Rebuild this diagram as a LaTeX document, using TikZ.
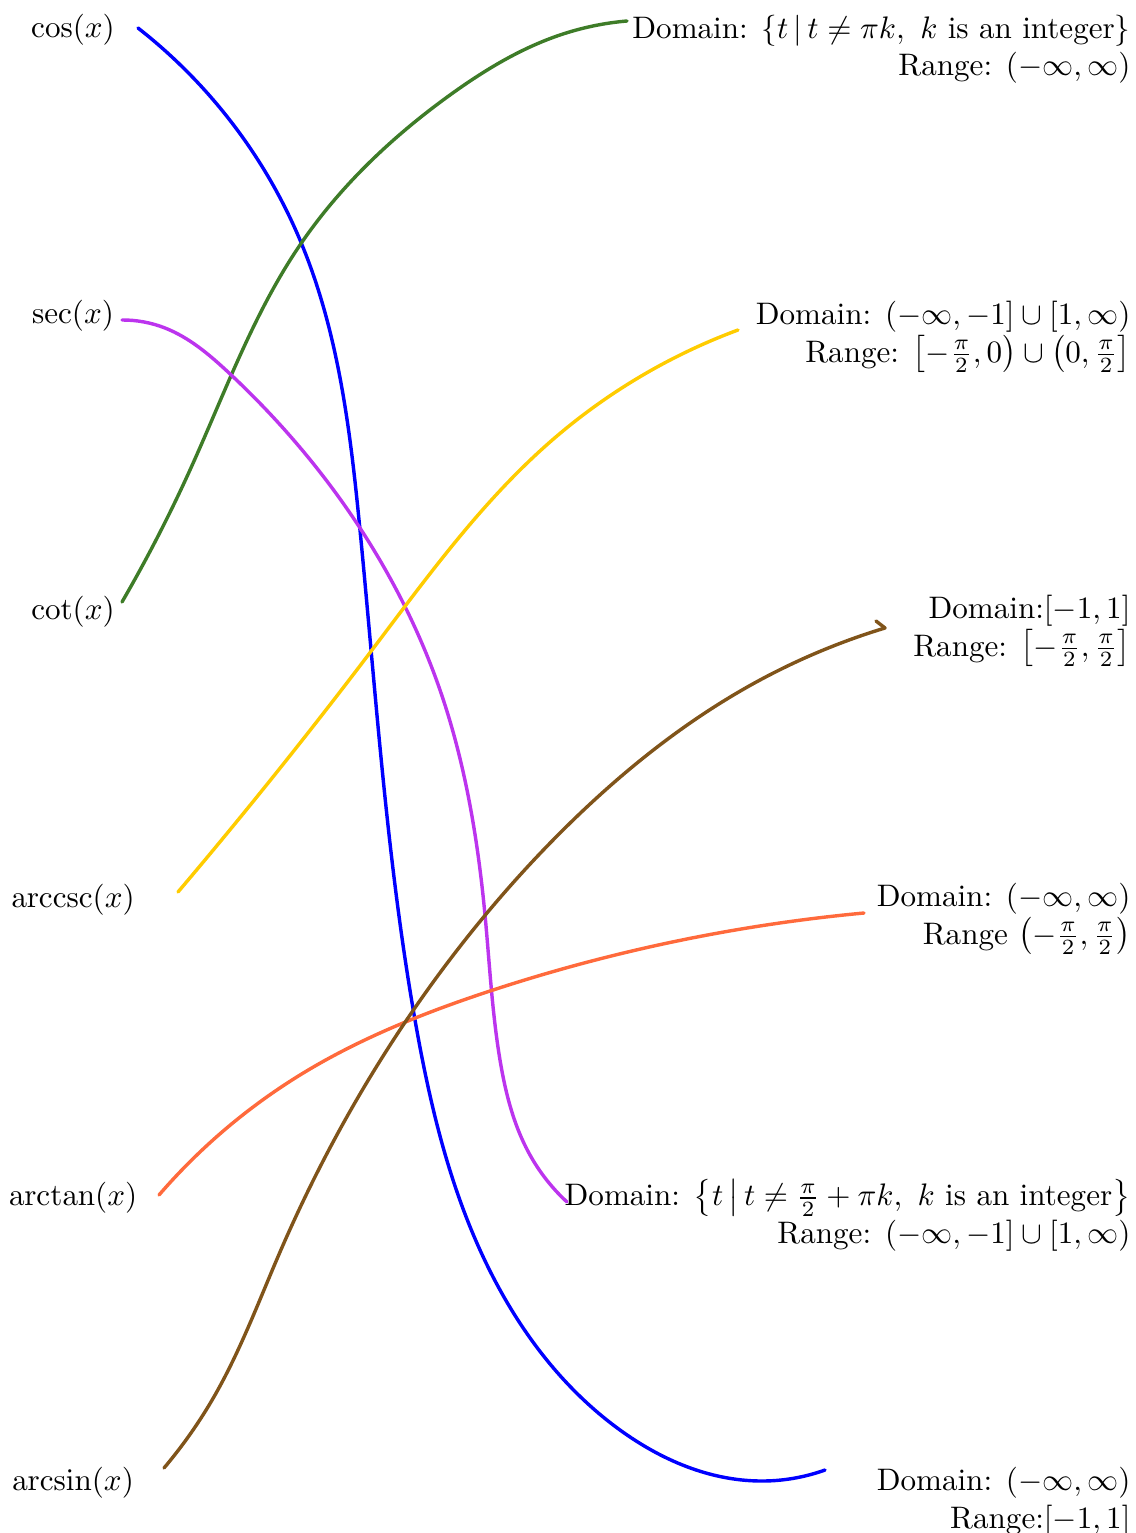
\documentclass[tikz,border=0pt]{standalone}
\usepackage{amsmath}
\usetikzlibrary{hobby}
\begin{document}
\begin{tikzpicture}[x=0.3215pt,y=-0.3215pt,
  lbl/.style={anchor=base,inner sep=0pt},
  rlbl/.style={anchor=base east,inner sep=0pt,align=right},
  curve/.style={line width=1.1pt,line cap=round,line join=round,use Hobby shortcut}]
\definecolor{cgreen}{RGB}{62,124,40}
\definecolor{cpurple}{RGB}{188,52,238}
\definecolor{cyellow}{RGB}{255,204,0}
\definecolor{cbrown}{RGB}{128,84,26}
\definecolor{corange}{RGB}{255,106,60}
\useasboundingbox (0,0) rectangle (1136,1533);
% left labels
\node[lbl] (cos) at (73,38) {$\cos(x)$};
\node[lbl] (sec) at (73,324) {$\sec(x)$};
\node[lbl] (cot) at (73,619) {$\cot(x)$};
\node[lbl] (acsc) at (73,907) {$\operatorname{arccsc}(x)$};
\node[lbl] (atan) at (73,1205) {$\arctan(x)$};
\node[lbl] (asin) at (73,1490) {$\arcsin(x)$};
% right labels (base = last line)
\node[rlbl] (d1) at (1131,76) {Domain: $\{t\,|\,t\neq\pi k,\ k\text{ is an integer}\}$\\Range: $(-\infty,\infty)$};
\node[rlbl] (d2) at (1131,362) {Domain: $(-\infty,-1]\cup[1,\infty)$\\Range: $\left[-\frac{\pi}{2},0\right)\cup\left(0,\frac{\pi}{2}\right]$};
\node[rlbl] (d3) at (1131,656) {Domain:$[-1,1]$\\Range: $\left[-\frac{\pi}{2},\frac{\pi}{2}\right]$};
\node[rlbl] (d4) at (1131,944) {Domain: $(-\infty,\infty)$\\Range $\left(-\frac{\pi}{2},\frac{\pi}{2}\right)$};
\node[rlbl] (d5) at (1131,1243) {Domain: $\left\{t\,\middle|\,t\neq\frac{\pi}{2}+\pi k,\ k\text{ is an integer}\right\}$\\Range: $(-\infty,-1]\cup[1,\infty)$};
\node[rlbl] (d6) at (1131,1528) {Domain: $(-\infty,\infty)$\\Range:$[-1,1]$};
% connector ends
\coordinate (cosA) at (138,28);  \coordinate (cosB) at (825,1470);
\coordinate (secA) at (122,320); \coordinate (secB) at (567,1202);
\coordinate (cotA) at (122,602); \coordinate (cotB) at (627,21);
\coordinate (acscA) at (178,892); \coordinate (acscB) at (738,330);
\coordinate (atanA) at (159,1195); \coordinate (atanB) at (864,913);
\coordinate (asinA) at (164,1468); \coordinate (asinB) at (876,621);
% curves
\draw[curve,blue] (cosA) .. (300,240) .. (360,530) .. (415,1020) .. (480,1250) .. (620,1430) .. (760,1481) .. (cosB);
\draw[curve,cgreen] (cotA) .. (190,470) .. (300,245) .. (450,95) .. (560,35) .. (cotB);
\draw[curve,cpurple] (secA) .. (165,328) .. (228,372) .. (358,525) .. (440,690) .. (485,915) .. (500,1060) .. (530,1155) .. (secB);
\draw[curve,cyellow] (acscA) .. (372,650) .. (550,442) .. (acscB);
\draw[curve,corange] (atanA) .. (300,1075) .. (490,991) .. (atanB);
\draw[curve,cbrown] (asinA) .. (215,1395) .. (280,1252) .. (410,1015) .. (560,833) .. (760,680) .. (885,628);
\draw[line width=1.1pt,line cap=round,cbrown] (885,628) -- (asinB);
\end{tikzpicture}
\end{document}
